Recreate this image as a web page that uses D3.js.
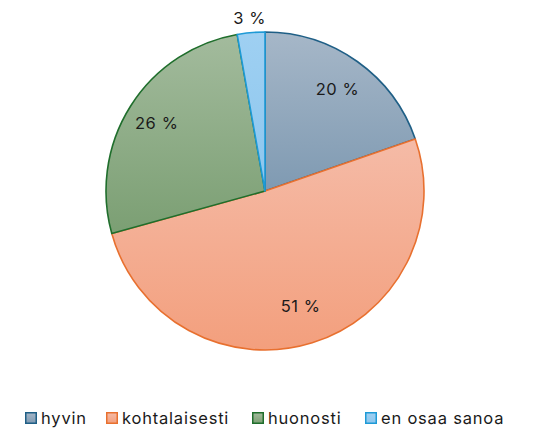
<!DOCTYPE html>
<html><head><meta charset="utf-8">
<script src="https://cdn.jsdelivr.net/npm/d3@7"></script>
<style>body{margin:0;background:#fff}svg{display:block}</style>
</head><body>
<svg id="c" width="533" height="428"></svg>
<script>
const categories = ["hyvin", "kohtalaisesti", "huonosti", "en osaa sanoa"];
const values = [19.7, 51.0, 26.5, 2.8];
const labels = ["20 %", "51 %", "26 %", "3 %"];
const topColors = ["#a6b7c8", "#f5bba7", "#a3bb9d", "#9fd0f2"];
const bottomColors = ["#7f9ab2", "#f39f7d", "#7b9f73", "#8cc6ee"];
const strokeColors = ["#1f5f86", "#e8702f", "#1f6e2c", "#1e9ad6"];

const svg = d3.select("#c");
const cx = 265, cy = 191, R = 159;
const defs = svg.append("defs");
categories.forEach((c, i) => {
  const g = defs.append("linearGradient").attr("id", "g" + i)
    .attr("x1", 0).attr("y1", 0).attr("x2", 0).attr("y2", 1);
  g.append("stop").attr("offset", "0").attr("stop-color", topColors[i]);
  g.append("stop").attr("offset", "1").attr("stop-color", bottomColors[i]);
});

const pie = d3.pie().sort(null).value(d => d)(values);
const arc = d3.arc().innerRadius(0).outerRadius(R);
const gp = svg.append("g").attr("transform", `translate(${cx},${cy})`);
gp.selectAll("path").data(pie).join("path")
  .attr("d", arc)
  .attr("fill", (d, i) => `url(#g${i})`)
  .attr("stroke", (d, i) => strokeColors[i])
  .attr("stroke-width", 1.6)
  .attr("stroke-linejoin", "round");

const labelR = [125, 120, 128, 174];
gp.selectAll("text").data(pie).join("text")
  .attr("transform", (d, i) => {
    const a = (d.startAngle + d.endAngle) / 2;
    const r = labelR[i];
    return `translate(${Math.sin(a) * r},${-Math.cos(a) * r})`;
  })
  .attr("text-anchor", "middle").attr("dy", "0.36em")
  .attr("font-family", "Inter, 'Open Sans', sans-serif").attr("font-size", 16.5)
  .attr("letter-spacing", 0.6)
  .attr("fill", "#1a1a1a")
  .text((d, i) => labels[i]);

const legX = [25, 106, 252, 365];
const lg = svg.append("g");
categories.forEach((c, i) => {
  lg.append("rect").attr("x", legX[i] + 0.75).attr("y", 412.75).attr("width", 10.5).attr("height", 10.5)
    .attr("fill", `url(#g${i})`).attr("stroke", strokeColors[i]).attr("stroke-width", 1.5);
  lg.append("text").attr("x", legX[i] + 16).attr("y", 424)
    .attr("font-family", "Inter, 'Open Sans', sans-serif").attr("font-size", 16.5)
    .attr("letter-spacing", 0.8)
    .attr("fill", "#1a1a1a").text(c);
});
</script>
</body></html>
